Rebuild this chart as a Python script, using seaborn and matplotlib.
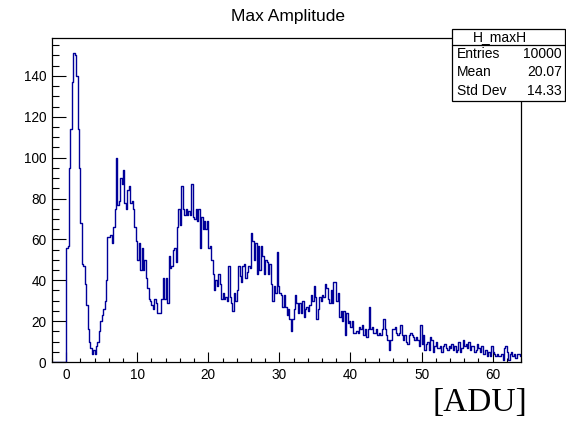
import matplotlib
matplotlib.use("Agg")
import matplotlib.pyplot as plt
from matplotlib.patches import Rectangle
from matplotlib.lines import Line2D
from matplotlib.ticker import MultipleLocator
import seaborn as sns
import numpy as np
import pandas as pd

sns.set_style("ticks")
plt.rcParams['font.family'] = ['Liberation Sans', 'DejaVu Sans']
plt.rcParams['text.color'] = 'black'

# histogram H_maxH, bins of 0.2 ADU starting at -2
bin_start = -2.0
bin_width = 0.2
counts_below_0 = [0] * 10
counts_0_7 = [56, 57, 95, 114, 137, 151, 150, 140, 114, 95, 68, 48, 47, 38, 28, 16, 10, 7,
              4, 6, 4, 8, 10, 15, 20, 23, 26, 30, 40, 61, 61, 62, 58, 66, 75, 100]
counts_7_13 = [77, 79, 90, 87, 94, 78, 75, 84, 86, 78, 79, 75, 66, 59, 50, 58, 45, 56, 45, 50,
               41, 36, 31, 30, 28, 26, 31, 29, 24, 24]
counts_13_33 = [24, 31, 41, 31, 41, 29, 52, 46, 47, 55, 56, 49, 66, 75, 67, 86, 75, 72, 75, 72,
                74, 72, 87, 71, 70, 75, 69, 75, 56, 71, 65, 69, 65, 69, 56, 57, 50, 43, 35, 40,
                37, 43, 38, 31, 34, 31, 32, 30, 47, 32, 29, 25,
                34, 30, 35, 47, 42, 39, 47, 48, 41, 44, 47,
                46, 63, 59, 50, 58, 43, 57, 45, 57, 52, 43, 50, 49, 43,
                48, 38, 30, 37, 34, 54, 37,
                34, 33, 27, 33, 27, 23, 26, 21, 15, 21, 26, 33, 29, 24, 29]
counts_33_64 = [24, 30, 22, 26, 27, 25, 28,
                33, 30, 37, 32, 21, 26,
                32, 30, 33, 32, 38, 36, 31,
                29, 35, 29, 39, 39, 30, 34,
                22, 25, 20, 25, 13, 24, 19,
                20, 17, 20, 14, 14, 15,
                14, 17, 16, 18, 13, 16, 12,
                16, 27, 16, 17, 14, 14, 16,
                13, 14, 13, 16, 21, 16, 13,
                11, 6, 11, 16, 16, 17, 14,
                13, 14, 18, 13, 11, 13, 10,
                9, 13, 14, 13, 12, 11, 12,
                11, 8, 18, 9, 13, 6, 9,
                10, 6, 12, 11, 5, 8, 10,
                7, 7, 8, 5, 8, 9, 7,
                6, 8, 7, 9, 6, 8, 5,
                6, 10, 5, 7, 11, 8, 9,
                7, 10, 6, 8, 8, 5, 6,
                9, 7, 5, 8, 4, 4, 6,
                3, 5, 3, 8, 5, 4, 3,
                4, 3, 3, 4, 1, 7, 8, 5,
                1, 4, 5, 3, 4, 2, 4, 4, 3]

stats_rows = [("Entries", "10000"), ("Mean", "20.07"), ("Std Dev", "14.33")]

counts = np.array(counts_below_0 + counts_0_7 + counts_7_13 + counts_13_33 + counts_33_64, dtype=float)
edges = bin_start + bin_width * np.arange(len(counts) + 1)
df = pd.DataFrame({"adu": 0.5 * (edges[:-1] + edges[1:]), "n": counts})

W, H = 566, 423
fig = plt.figure(figsize=(W / 100, H / 100), dpi=100)
ax = fig.add_axes([52 / W, 1 - 362 / H, (521 - 52) / W, (362 - 38) / H])

sns.histplot(data=df, x="adu", weights="n", bins=edges.tolist(), element="step", fill=False,
             color="#000099", linewidth=1.0, ax=ax)

ax.set_xlim(edges[0], edges[-1])
ax.set_ylim(0, counts.max() * 1.05)
ax.set_xlabel("")
ax.set_ylabel("")

ax.xaxis.set_major_locator(MultipleLocator(10))
ax.xaxis.set_minor_locator(MultipleLocator(2))
ax.yaxis.set_major_locator(MultipleLocator(20))
ax.yaxis.set_minor_locator(MultipleLocator(5))
ax.tick_params(axis="both", which="both", direction="in", colors="black", labelsize=9.8,
               top=False, right=False, width=0.8)
ax.tick_params(axis="x", which="major", length=7, pad=4)
ax.tick_params(axis="x", which="minor", length=3)
ax.tick_params(axis="y", which="major", length=10, pad=4)
ax.tick_params(axis="y", which="minor", length=5)
for s in ax.spines.values():
    s.set_visible(True)
    s.set_color("black")
    s.set_linewidth(0.9)

fig.text(288 / W, 1 - 16 / H, "Max Amplitude", ha="center", va="center", fontsize=12.5)

# stats box
bx0, bx1, by0, by1, byh = 452, 565, 29, 101, 45
fig.patches.append(Rectangle((bx0 / W, 1 - by1 / H), (bx1 - bx0) / W, (by1 - by0) / H,
                             transform=fig.transFigure, facecolor="white",
                             edgecolor="black", linewidth=0.9, zorder=5))
fig.lines.append(Line2D([bx0 / W, bx1 / W], [1 - byh / H, 1 - byh / H],
                        transform=fig.transFigure, color="black", linewidth=0.9, zorder=6))
fig.text(500 / W, 1 - 37 / H, "H_maxH", ha="center", va="center", fontsize=10, zorder=7)
for i, (name, val) in enumerate(stats_rows):
    yy = 1 - (54 + 18.3 * i) / H
    fig.text(457 / W, yy, name, ha="left", va="center", fontsize=10, zorder=7)
    fig.text(562 / W, yy, val, ha="right", va="center", fontsize=10, zorder=7)

fig.text(527 / W, 1 - 403 / H, "[ADU]", ha="right", va="center", fontsize=24,
         family=["Liberation Serif", "DejaVu Serif"])

fig.savefig("out.png", dpi=100)
